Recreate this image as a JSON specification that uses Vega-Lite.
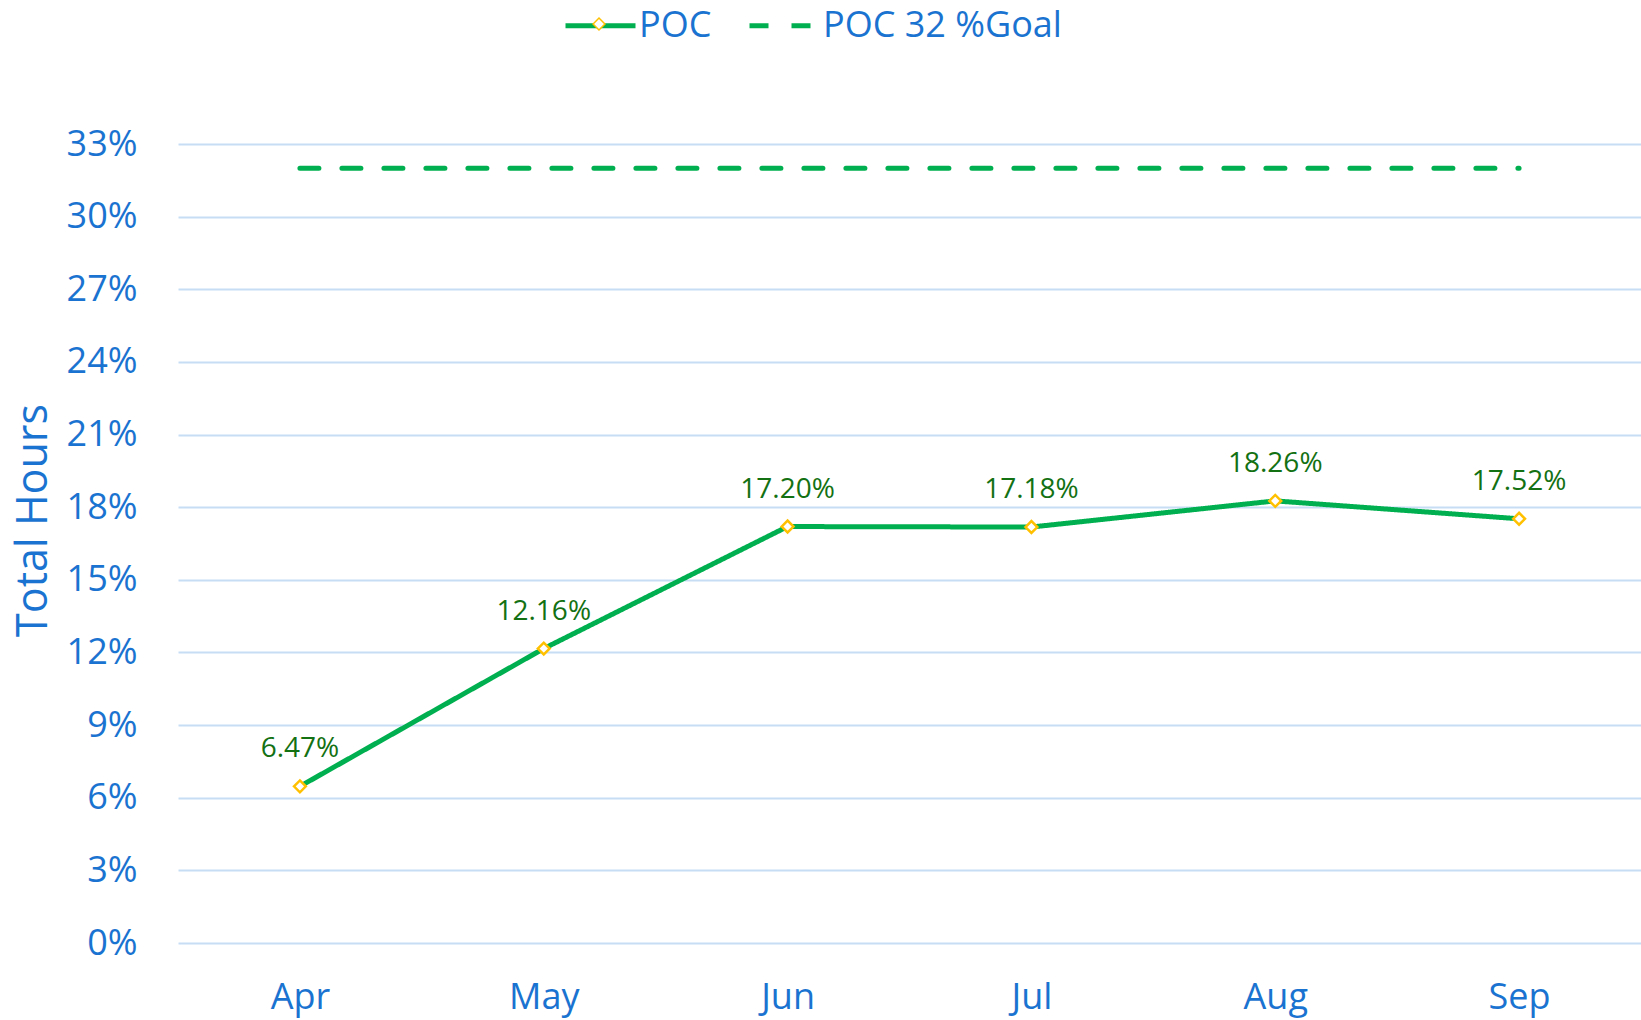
{
  "$schema": "https://vega.github.io/schema/vega-lite/v6.json",
  "autosize": "none",
  "padding": {"left": 178, "top": 144, "right": 0, "bottom": 77},
  "width": 1463,
  "height": 799,
  "background": "white",
  "config": {
    "view": {"stroke": null},
    "font": "Open Sans"
  },
  "data": {
    "values": [
      {"month": "Apr", "series": "POC", "value": 0.0647},
      {"month": "May", "series": "POC", "value": 0.1216},
      {"month": "Jun", "series": "POC", "value": 0.1720},
      {"month": "Jul", "series": "POC", "value": 0.1718},
      {"month": "Aug", "series": "POC", "value": 0.1826},
      {"month": "Sep", "series": "POC", "value": 0.1752},
      {"month": "Apr", "series": "POC 32 %Goal", "value": 0.32},
      {"month": "May", "series": "POC 32 %Goal", "value": 0.32},
      {"month": "Jun", "series": "POC 32 %Goal", "value": 0.32},
      {"month": "Jul", "series": "POC 32 %Goal", "value": 0.32},
      {"month": "Aug", "series": "POC 32 %Goal", "value": 0.32},
      {"month": "Sep", "series": "POC 32 %Goal", "value": 0.32}
    ]
  },
  "encoding": {
    "x": {
      "field": "month", "type": "ordinal", "sort": null,
      "scale": {"type": "point", "padding": 0.5},
      "axis": {
        "title": null, "grid": false, "ticks": false, "domain": false,
        "labelAngle": 0, "labelFontSize": 36, "labelColor": "#1A73D0",
        "labelFont": "Open Sans", "labelBaseline": "middle", "labelPadding": 54
      }
    },
    "y": {
      "field": "value", "type": "quantitative",
      "scale": {"domain": [0, 0.33], "nice": false, "zero": true},
      "axis": {
        "title": "Total Hours", "titleFontSize": 43, "titleFont": "Open Sans",
        "titleFontWeight": "normal", "titleColor": "#1A73D0",
        "titleX": -145, "titleY": 376, "titleAngle": -90,
        "titleAlign": "center", "titleBaseline": "middle",
        "values": [0, 0.03, 0.06, 0.09, 0.12, 0.15, 0.18, 0.21, 0.24, 0.27, 0.30, 0.33],
        "format": ".0%", "labelFontSize": 36, "labelColor": "#1A73D0",
        "labelFont": "Open Sans", "labelPadding": 41, "ticks": false, "domain": false,
        "grid": true, "gridColor": "#C6DDF4", "gridWidth": 2
      }
    }
  },
  "layer": [
    {
      "mark": {"type": "line", "strokeWidth": 5, "strokeCap": "round"},
      "encoding": {
        "color": {
          "field": "series", "type": "nominal",
          "scale": {"domain": ["POC", "POC 32 %Goal"], "range": ["#00B050", "#00B050"]},
          "legend": {
            "title": null, "orient": "none", "direction": "horizontal",
            "legendX": 385, "legendY": -156, "padding": 0, "zindex": 1,
            "symbolType": "stroke", "symbolSize": 4900, "symbolStrokeWidth": 5,
            "labelFontSize": 36, "labelColor": "#1A73D0", "labelFont": "Open Sans",
            "labelOffset": 1, "columnPadding": 27, "labelLimit": 0
          }
        },
        "strokeDash": {
          "field": "series", "type": "nominal",
          "scale": {"domain": ["POC", "POC 32 %Goal"], "range": [[1, 0], [19, 23]]},
          "legend": {
            "title": null, "orient": "none", "direction": "horizontal",
            "legendX": 385, "legendY": -156, "padding": 0, "zindex": 1,
            "symbolType": "stroke", "symbolSize": 4900, "symbolStrokeWidth": 5,
            "labelFontSize": 36, "labelColor": "#1A73D0", "labelFont": "Open Sans",
            "labelOffset": 1, "columnPadding": 27, "labelLimit": 0
          }
        }
      }
    },
    {
      "transform": [{"filter": "datum.series === 'POC'"}],
      "mark": {"type": "point", "filled": false, "fill": "white", "stroke": "#FFC000", "strokeWidth": 2.5, "size": 140, "opacity": 1},
      "encoding": {
        "shape": {
          "field": "series", "type": "nominal",
          "scale": {"domain": ["POC"], "range": ["diamond"]},
          "legend": {
            "title": null, "orient": "none", "legendX": 414, "legendY": -127, "padding": 0, "zindex": 5,
            "symbolSize": 140, "labelOpacity": 0, "labelFontSize": 1,
            "encode": {
              "symbols": {
                "update": {
                  "stroke": {"value": "#FFC000"},
                  "fill": {"value": "white"},
                  "fillOpacity": {"value": 1},
                  "strokeWidth": {"value": 2.5},
                  "opacity": {"value": 1}
                }
              }
            }
          }
        }
      }
    },
    {
      "transform": [{"filter": "datum.series === 'POC'"}],
      "mark": {"type": "text", "dy": -37, "fontSize": 28, "font": "Open Sans", "color": "#137113", "baseline": "middle"},
      "encoding": {
        "text": {"field": "value", "type": "quantitative", "format": ".2%"}
      }
    }
  ]
}
